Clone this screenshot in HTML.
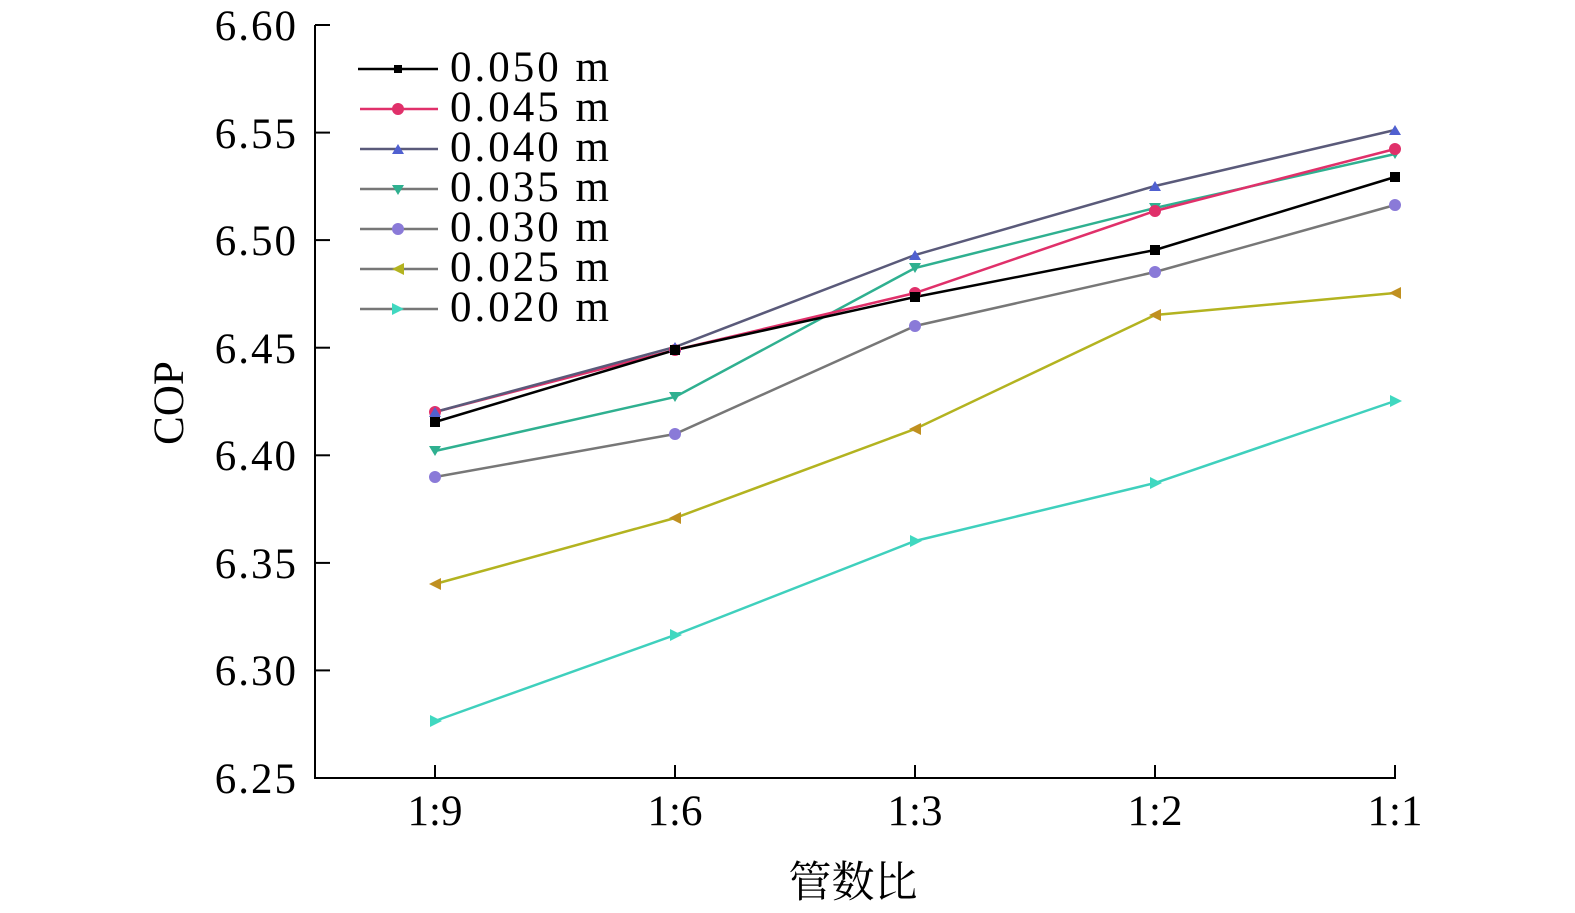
<!DOCTYPE html>
<html><head><meta charset="utf-8"><style>body{margin:0;background:#fff}svg{display:block}</style></head><body>
<svg width="1575" height="913" xmlns="http://www.w3.org/2000/svg" font-family="'Liberation Serif','Noto Serif CJK SC',serif">
<rect width="1575" height="913" fill="#fff"/>
<g stroke="#000" stroke-width="2" fill="none">
<line x1="315" y1="25" x2="315" y2="779"/>
<line x1="314" y1="778" x2="1396" y2="778"/>
<line x1="315" y1="25" x2="330" y2="25"/><line x1="315" y1="132.6" x2="330" y2="132.6"/><line x1="315" y1="240.1" x2="330" y2="240.1"/><line x1="315" y1="347.7" x2="330" y2="347.7"/><line x1="315" y1="455.3" x2="330" y2="455.3"/><line x1="315" y1="562.9" x2="330" y2="562.9"/><line x1="315" y1="670.4" x2="330" y2="670.4"/>
<line x1="435" y1="778" x2="435" y2="765"/><line x1="675" y1="778" x2="675" y2="765"/><line x1="915" y1="778" x2="915" y2="765"/><line x1="1155" y1="778" x2="1155" y2="765"/><line x1="1395" y1="778" x2="1395" y2="765"/>
</g>
<g font-size="43" text-anchor="end" letter-spacing="2">
<text x="298" y="40">6.60</text><text x="298" y="148">6.55</text><text x="298" y="255">6.50</text><text x="298" y="363">6.45</text><text x="298" y="470">6.40</text><text x="298" y="578">6.35</text><text x="298" y="685">6.30</text><text x="298" y="793">6.25</text>
</g>
<g font-size="43" text-anchor="middle">
<text x="435" y="825">1:9</text><text x="675" y="825">1:6</text><text x="915" y="825">1:3</text><text x="1155" y="825">1:2</text><text x="1395" y="825">1:1</text>
<text x="853" y="897">管数比</text>
<text transform="translate(183,403) rotate(-90)">COP</text>
</g>
<g fill="none" stroke-width="2.5">
<polyline stroke="#3fd0bd" points="435,721 675,635 915,541 1155,483 1395,401"/>
<polyline stroke="#b3b320" points="435,584 675,518 915,429 1155,315 1395,293"/>
<polyline stroke="#777" points="435,477 675,434 915,326 1155,272 1395,205"/>
<polyline stroke="#2fb090" points="435,451 675,397 915,268 1155,208 1395,154"/>
<polyline stroke="#e0306a" points="435,412 675,350 915,293 1155,211 1395,149"/>
<polyline stroke="#5a5a7a" points="435,412 675,347 915,255 1155,186 1395,130"/>
<polyline stroke="#000" points="435,422 675,350 915,297 1155,250 1395,177"/>
</g>
<g>
<g fill="#40d8c0"><path d="M430,715 l12,6 l-12,6z"/><path d="M670,629 l12,6 l-12,6z"/><path d="M910,535 l12,6 l-12,6z"/><path d="M1150,477 l12,6 l-12,6z"/><path d="M1390,395 l12,6 l-12,6z"/></g>
<g fill="#c09020"><path d="M441,578 l-12,6 l12,6z"/><path d="M681,512 l-12,6 l12,6z"/><path d="M921,423 l-12,6 l12,6z"/><path d="M1161,309 l-12,6 l12,6z"/><path d="M1401,287 l-12,6 l12,6z"/></g>
<g fill="#8a7ad8"><circle cx="435" cy="477" r="6"/><circle cx="675" cy="434" r="6"/><circle cx="915" cy="326" r="6"/><circle cx="1155" cy="272" r="6"/><circle cx="1395" cy="205" r="6"/></g>
<g fill="#2fb090"><path d="M429,446 h12 l-6,10z"/><path d="M669,392 h12 l-6,10z"/><path d="M909,263 h12 l-6,10z"/><path d="M1149,203 h12 l-6,10z"/><path d="M1389,149 h12 l-6,10z"/></g>
<g fill="#e0306a"><circle cx="435" cy="412" r="6"/><circle cx="675" cy="350" r="6"/><circle cx="915" cy="293" r="6"/><circle cx="1155" cy="211" r="6"/><circle cx="1395" cy="149" r="6"/></g>
<g fill="#5060d0"><path d="M429,417 h12 l-6,-10z"/><path d="M669,352 h12 l-6,-10z"/><path d="M909,260 h12 l-6,-10z"/><path d="M1149,191 h12 l-6,-10z"/><path d="M1389,135 h12 l-6,-10z"/></g>
<g fill="#000"><rect x="430" y="417" width="10" height="10"/><rect x="670" y="345" width="10" height="10"/><rect x="910" y="292" width="10" height="10"/><rect x="1150" y="245" width="10" height="10"/><rect x="1390" y="172" width="10" height="10"/></g>
</g>
<g stroke-width="2.5">
<line x1="358" y1="69" x2="438" y2="69" stroke="#000"/><rect x="394" y="65" width="8" height="8" fill="#000"/>
<line x1="360" y1="109" x2="438" y2="109" stroke="#e0306a"/><circle cx="398" cy="109" r="6" fill="#e0306a"/>
<line x1="360" y1="149" x2="438" y2="149" stroke="#5a5a7a"/><path d="M392,154 h12 l-6,-10z" fill="#5060d0"/>
<line x1="360" y1="189" x2="438" y2="189" stroke="#777"/><path d="M392,185 h12 l-6,10z" fill="#2fb090"/>
<line x1="360" y1="229" x2="438" y2="229" stroke="#777"/><circle cx="398" cy="229" r="6" fill="#8a7ad8"/>
<line x1="360" y1="269" x2="438" y2="269" stroke="#777"/><path d="M404,263 l-12,6 l12,6z" fill="#b3b320"/>
<line x1="360" y1="309" x2="438" y2="309" stroke="#777"/><path d="M392,303 l12,6 l-12,6z" fill="#40d8c0"/>
</g>
<g font-size="43" letter-spacing="3">
<text x="450" y="81">0.050 m</text><text x="450" y="121">0.045 m</text><text x="450" y="161">0.040 m</text><text x="450" y="201">0.035 m</text><text x="450" y="241">0.030 m</text><text x="450" y="281">0.025 m</text><text x="450" y="321">0.020 m</text>
</g>
</svg>
</body></html>
